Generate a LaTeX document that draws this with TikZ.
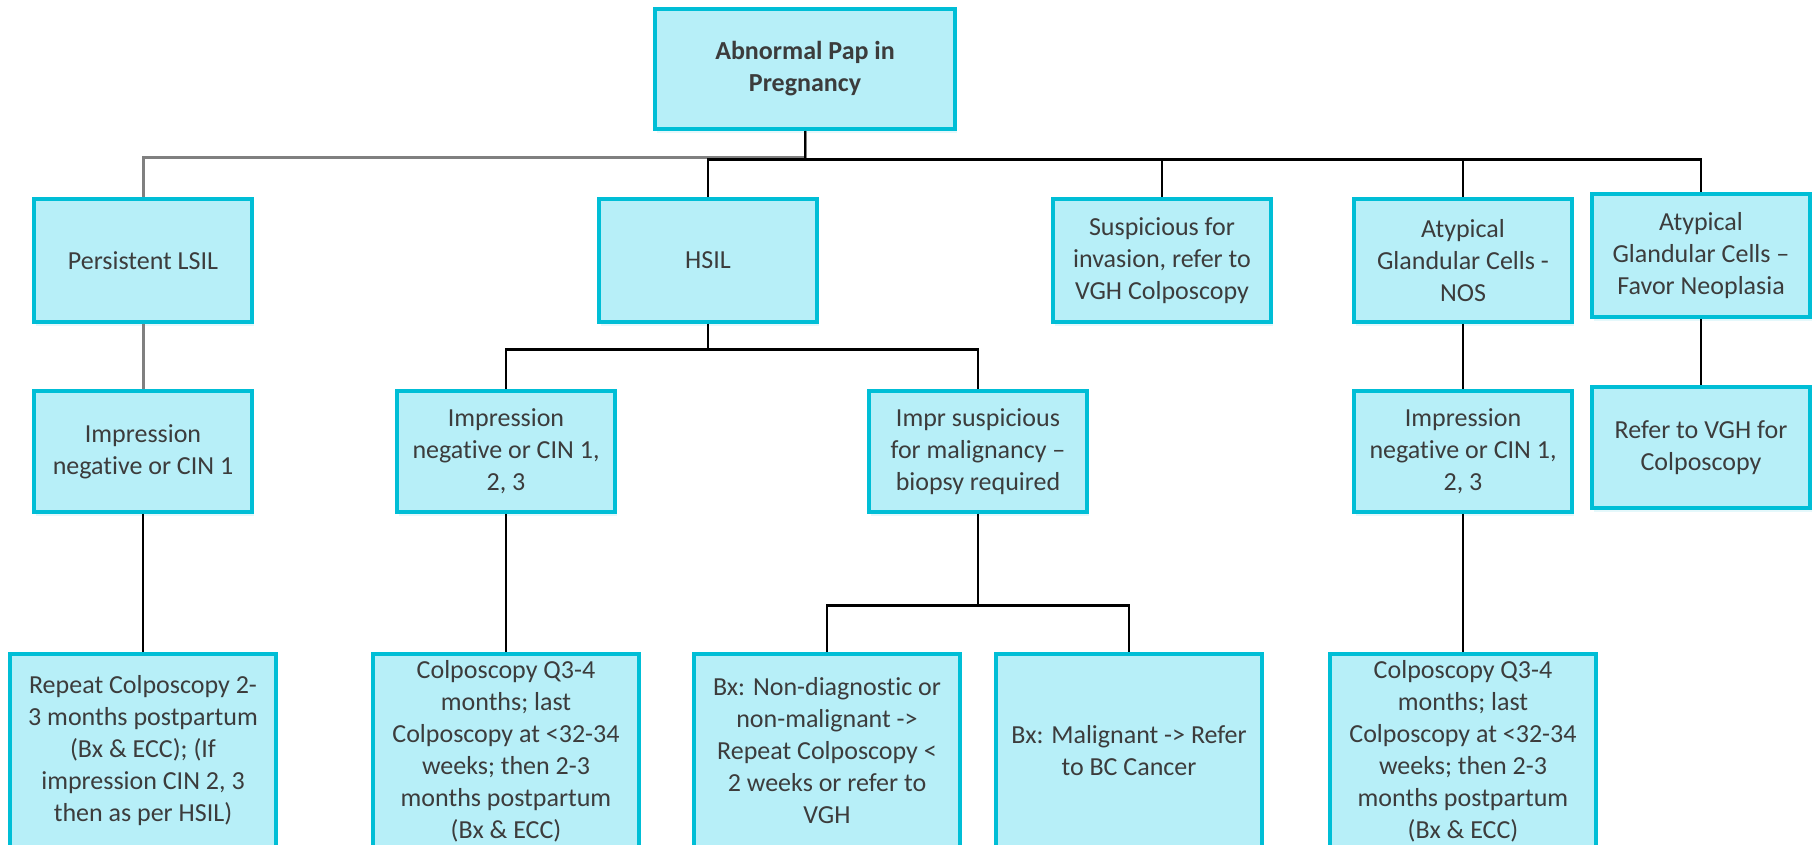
\documentclass[tikz,border=0pt]{standalone}
\usepackage{fontspec}
\setmainfont{Carlito}[Ligatures={NoCommon}]
\usetikzlibrary{shadows}
\definecolor{boxfill}{RGB}{183,239,248}
\definecolor{boxedge}{RGB}{0,190,214}
\definecolor{txt}{RGB}{60,60,60}
\definecolor{busgray}{RGB}{128,128,128}
\begin{document}
\begin{tikzpicture}[x=1pt,y=-1pt,
  card/.style={draw=boxedge, fill=boxfill, line width=3.5pt, align=center,
    text=txt, inner sep=2pt, font=\fontsize{26}{32}\selectfont,
    drop shadow={shadow xshift=2pt, shadow yshift=-4pt, fill=boxedge, opacity=0.10}},
  rowtwo/.style={card, minimum width=218pt, minimum height=123pt},
  rowthree/.style={card, minimum width=218pt, minimum height=121pt},
  rowfour/.style={card, minimum width=266pt, minimum height=194pt},
  link/.style={line width=2.6pt, black},
  graylink/.style={line width=3pt, busgray}]

\useasboundingbox (0,0) rectangle (1814,844);

% root
\node[card, minimum width=300pt, minimum height=120pt, font=\fontsize{26}{32}\selectfont\bfseries]
  (root) at (805,69) {Abnormal Pap in\\Pregnancy};

% second level
\node[rowtwo] (lsil) at (143,260.5) {Persistent LSIL};
\node[rowtwo] (hsil) at (708,260.5) {HSIL};
\node[rowtwo] (susp) at (1162,260.5) {Suspicious for\\invasion, refer to\\VGH Colposcopy};
\node[rowtwo] (nos)  at (1463,260.5) {Atypical\\Glandular Cells -\\NOS};
\node[rowtwo] (fav)  at (1701,255.5) {Atypical\\Glandular Cells –\\Favor Neoplasia};

% third level
\node[rowthree] (impa) at (143,451.5) {Impression\\negative or CIN 1};
\node[rowthree] (impb) at (506,451.5) {Impression\\negative or CIN 1,\\2, 3};
\node[rowthree] (imps) at (978,451.5) {Impr suspicious\\for malignancy –\\biopsy required};
\node[rowthree] (impc) at (1463,451.5) {Impression\\negative or CIN 1,\\2, 3};
\node[rowthree] (refer) at (1701,447.5) {Refer to VGH for\\Colposcopy};

% fourth level
\node[rowfour] (rep)  at (143,751) {Repeat Colposcopy 2-\\3 months postpartum\\(Bx \& ECC); (If\\impression CIN 2, 3\\then as per HSIL)};
\node[rowfour] (cola) at (506,751) {Colposcopy Q3-4\\months; last\\Colposcopy at <32-34\\weeks; then 2-3\\months postpartum\\(Bx \& ECC)};
\node[rowfour] (bxa)  at (827,751) {Bx: Non-diagnostic or\\non-malignant ->\\Repeat Colposcopy <\\2 weeks or refer to\\VGH};
\node[rowfour] (bxb)  at (1129,751) {Bx: Malignant -> Refer\\to BC Cancer};
\node[rowfour] (colb) at (1463,751) {Colposcopy Q3-4\\months; last\\Colposcopy at <32-34\\weeks; then 2-3\\months postpartum\\(Bx \& ECC)};

% connectors from the root
\draw[graylink] (root.south) -- ++(0,27) -| (lsil.north);
\draw[graylink] (lsil.south) -- (impa.north);
\foreach \k in {hsil,susp,nos,fav}
  \draw[link] (root.south) -- ++(0,28.5) -| (\k.north);

% HSIL branch
\foreach \k in {impb,imps}
  \draw[link] (hsil.south) -- ++(0,26) -| (\k.north);
\foreach \k in {bxa,bxb}
  \draw[link] (imps.south) -- ++(0,92) -| (\k.north);
\draw[link] (impb.south) -- (cola.north);

% remaining chains
\draw[link] (impa.south) -- (rep.north);
\draw[link] (nos.south) -- (impc.north);
\draw[link] (impc.south) -- (colb.north);
\draw[link] (fav.south) -- (refer.north);
\end{tikzpicture}
\end{document}
